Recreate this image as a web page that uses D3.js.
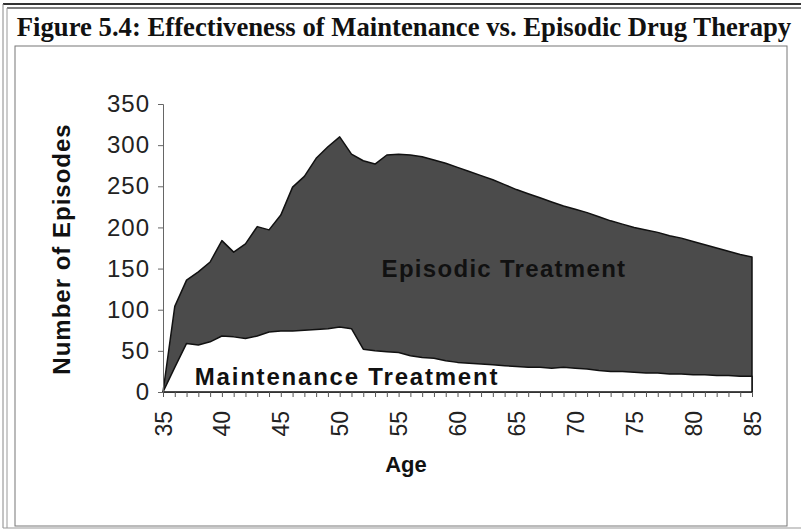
<!DOCTYPE html>
<html>
<head>
<meta charset="utf-8">
<script src="https://cdn.jsdelivr.net/npm/d3@7"></script>
<style>
  body { margin: 0; background: #fff; }
  svg { display: block; }
  .tick text { font-family: Arial, "Liberation Sans", sans-serif; }
</style>
</head>
<body>
<svg id="chart" width="801" height="529"></svg>
<script>
// ages 35..85, one value per year
const ages = d3.range(35, 86);
const episodic = [0, 104, 136, 146, 158, 184, 170, 180, 201, 197,
    215, 249, 262, 284, 298, 310, 289, 281, 277, 288,
    289, 288, 286, 282, 278, 273, 268, 263, 258, 252,
    246, 241, 236, 231, 226, 222, 218, 213, 208, 204,
    200, 197, 194, 190, 187, 183, 179, 175, 171, 167, 164];
const maintenance = [0, 30, 59, 57, 61, 68, 67, 65, 68, 73,
    74, 74, 75, 76, 77, 79, 77, 52, 50, 49,
    48, 44, 42, 41, 38, 36, 35, 34, 33, 32,
    31, 30, 30, 29, 30, 29, 28, 26, 25, 25,
    24, 23, 23, 22, 22, 21, 21, 20, 20, 19, 19];
const yTicks = [0, 50, 100, 150, 200, 250, 300, 350];
const xTicks = [35, 40, 45, 50, 55, 60, 65, 70, 75, 80, 85];

const svg = d3.select("#chart");

// frame
const frame = svg.append("g").attr("fill", "none");
frame.append("line").attr("x1", 3).attr("x2", 801).attr("y1", 4).attr("y2", 4)
    .attr("stroke", "#333").attr("stroke-width", 2);
frame.append("line").attr("x1", 7).attr("x2", 801).attr("y1", 8).attr("y2", 8)
    .attr("stroke", "#555").attr("stroke-width", 1.5);
frame.append("line").attr("x1", 3).attr("x2", 3).attr("y1", 4).attr("y2", 528)
    .attr("stroke", "#888").attr("stroke-width", 1);
frame.append("line").attr("x1", 7).attr("x2", 7).attr("y1", 8).attr("y2", 528)
    .attr("stroke", "#999").attr("stroke-width", 1);
frame.append("line").attr("x1", 3).attr("x2", 801).attr("y1", 528).attr("y2", 528)
    .attr("stroke", "#999").attr("stroke-width", 1);
frame.append("rect").attr("x", 15).attr("y", 46).attr("width", 772).attr("height", 480)
    .attr("stroke", "#777").attr("stroke-width", 1);

svg.append("text")
    .attr("x", 404).attr("y", 36)
    .attr("text-anchor", "middle")
    .attr("font-family", "'Liberation Serif', 'Times New Roman', serif")
    .attr("font-weight", "bold")
    .attr("font-size", 26.7)
    .attr("fill", "#111")
    .text("Figure 5.4: Effectiveness of Maintenance vs. Episodic Drug Therapy");

const x = d3.scaleLinear().domain([35, 85]).range([163, 752]);
const y = d3.scaleLinear().domain([0, 350]).range([392, 104]);

const area = vals => d3.area()
    .x((d, i) => x(ages[i]))
    .y0(y(0))
    .y1(d => y(d))(vals);

svg.append("path")
    .attr("d", area(episodic))
    .attr("fill", "#4b4b4b")
    .attr("stroke", "#111")
    .attr("stroke-width", 1.5)
    .attr("stroke-linejoin", "round");

svg.append("path")
    .attr("d", area(maintenance))
    .attr("fill", "#fff")
    .attr("stroke", "#111")
    .attr("stroke-width", 1.5)
    .attr("stroke-linejoin", "round");

// y axis
const yAxis = svg.append("g")
    .attr("transform", "translate(" + x(35) + ",0)")
    .call(d3.axisLeft(y).tickValues(yTicks).tickSize(5).tickPadding(8));
yAxis.select(".domain").attr("stroke", "#666");
yAxis.selectAll(".tick line").attr("stroke", "#666");
yAxis.selectAll(".tick text").attr("font-size", 24).attr("letter-spacing", 1).attr("fill", "#222");

// x axis, minor ticks every year
const xMinor = svg.append("g")
    .attr("transform", "translate(0," + y(0) + ")")
    .call(d3.axisBottom(x).tickValues(ages).tickSize(5).tickFormat(""));
xMinor.select(".domain").attr("stroke", "#333");
xMinor.selectAll(".tick line").attr("stroke", "#555");

const xAxis = svg.append("g")
    .attr("transform", "translate(0," + y(0) + ")")
    .call(d3.axisBottom(x).tickValues(xTicks).tickSize(0).tickFormat(d3.format("d")));
xAxis.select(".domain").remove();
xAxis.selectAll(".tick text")
    .attr("font-size", 23)
    .attr("fill", "#222")
    .attr("transform", "rotate(-90)")
    .attr("text-anchor", "end")
    .attr("x", -19)
    .attr("y", 0)
    .attr("dy", "0.35em");

// labels
const bold = "Arial, 'Liberation Sans', sans-serif";
svg.append("text")
    .attr("transform", "translate(70,249) rotate(-90)")
    .attr("text-anchor", "middle")
    .attr("font-family", bold).attr("font-weight", "bold").attr("font-size", 24)
    .attr("letter-spacing", 1)
    .attr("fill", "#111")
    .text("Number of Episodes");

svg.append("text")
    .attr("x", 406).attr("y", 472)
    .attr("text-anchor", "middle")
    .attr("font-family", bold).attr("font-weight", "bold").attr("font-size", 22)
    .attr("fill", "#111")
    .text("Age");

svg.append("text")
    .attr("x", 504).attr("y", 277)
    .attr("text-anchor", "middle")
    .attr("font-family", bold).attr("font-weight", "bold").attr("font-size", 24)
    .attr("letter-spacing", 1.3)
    .attr("fill", "#111")
    .text("Episodic Treatment");

svg.append("text")
    .attr("x", 347).attr("y", 385)
    .attr("text-anchor", "middle")
    .attr("font-family", bold).attr("font-weight", "bold").attr("font-size", 24)
    .attr("letter-spacing", 1.8)
    .attr("fill", "#111")
    .text("Maintenance Treatment");
</script>
</body>
</html>
